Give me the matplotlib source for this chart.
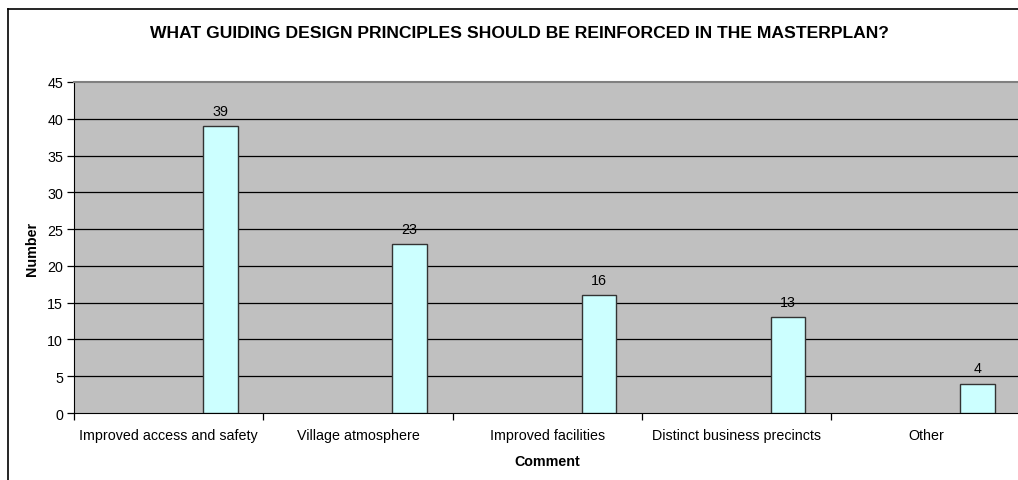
import matplotlib.pyplot as plt
from matplotlib.lines import Line2D

plt.rcParams['font.family'] = ['Liberation Sans', 'DejaVu Sans']

# survey responses
comments = ['Improved access and safety', 'Village atmosphere',
            'Improved facilities', 'Distinct business precincts', 'Other']
counts = [39, 23, 16, 13, 4]
yticks = list(range(0, 50, 5))

fig = plt.figure(figsize=(10.18, 4.81), dpi=100)
W, H = 1018, 481
fs = 10.3

# plot area runs slightly past the right edge of the image
left, top, bottom, right = 74, 83, 414, 1020.5
ax = fig.add_axes([left / W, 1 - bottom / H, (right - left) / W, (bottom - top) / H])
ax.set_facecolor('#C0C0C0')

n = len(comments)
bar_w = 0.182
offset = 0.273
xpos = [i + 0.5 + offset for i in range(n)]
ax.bar(xpos, counts, width=bar_w, color='#CCFFFF', edgecolor='#333333',
       linewidth=1.0, zorder=3)
for x, v in zip(xpos, counts):
    ax.text(x, v + 1.1, str(v), ha='center', va='bottom', fontsize=fs, zorder=4)

ax.set_xlim(0, n)
ax.set_ylim(0, 45)
ax.set_yticks(yticks)
ax.set_yticklabels([str(t) for t in yticks], fontsize=fs)
for t in yticks[1:-1]:
    ax.axhline(t, color='black', linewidth=0.9, zorder=1)

ax.set_xticks(range(n + 1))
ax.set_xticklabels([])
ax.set_xticks([i + 0.5 for i in range(n)], minor=True)
ax.set_xticklabels(comments, minor=True, fontsize=fs)
ax.tick_params(axis='x', which='minor', length=0, pad=10.5)
ax.tick_params(axis='x', which='major', length=5, width=0.9, direction='out')
ax.tick_params(axis='y', length=5, width=0.9, direction='out', pad=3)

ax.spines['top'].set_color('#808080')
ax.spines['top'].set_linewidth(1.5)
ax.spines['right'].set_visible(False)
ax.spines['left'].set_color('black')
ax.spines['bottom'].set_color('black')

ax.set_ylabel('Number', fontsize=fs, fontweight='bold', labelpad=6)
ax.set_xlabel('Comment', fontsize=fs, fontweight='bold', labelpad=9)

fig.text(519 / W, 1 - 34 / H,
         'WHAT GUIDING DESIGN PRINCIPLES SHOULD BE REINFORCED IN THE MASTERPLAN?',
         ha='center', va='center', fontsize=12.6, fontweight='bold')

# chart frame
fig.add_artist(Line2D([8 / W, 8 / W], [0, 1 - 10 / H], color='black',
                      linewidth=1.2, transform=fig.transFigure))
fig.add_artist(Line2D([8 / W, 1], [1 - 10 / H, 1 - 10 / H], color='black',
                      linewidth=1.2, transform=fig.transFigure))

fig.savefig('out.png', dpi=100)
